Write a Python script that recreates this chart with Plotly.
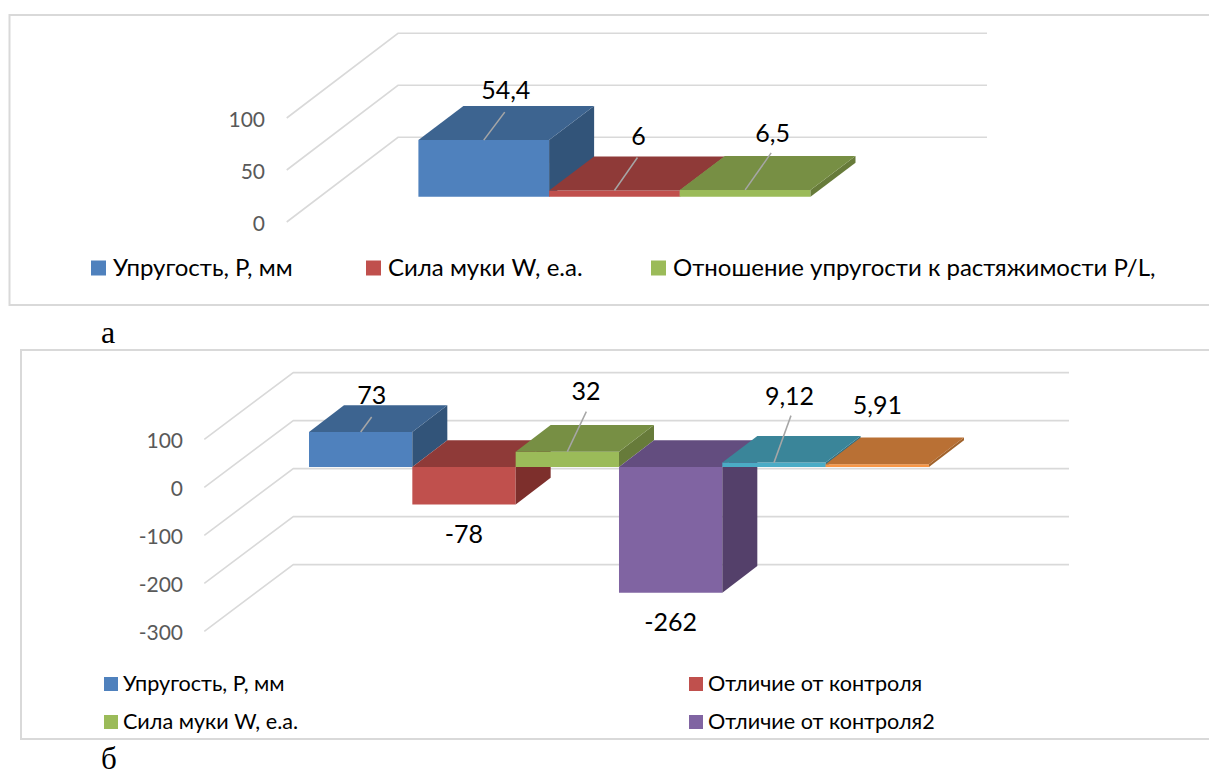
import plotly.graph_objects as go

FONT = "Lato, Carlito, 'Noto Sans', sans-serif"
W, H = 1209, 776

# ---- data ----
a_names = ["Упругость, Р, мм", "Сила муки W, е.а.", "Отношение упругости к растяжимости P/L,"]
a_values = [54.4, 6, 6.5]
a_labels = ["54,4", "6", "6,5"]
a_ticks = [0, 50, 100]

b_names = ["Упругость, Р, мм", "Отличие от контроля", "Сила муки W, е.а.", "Отличие от контроля2"]
b_values = [73, -78, 32, -262, 9.12, 5.91]
b_labels = ["73", "-78", "32", "-262", "9,12", "5,91"]
b_ticks = [100, 0, -100, -200, -300]

# ---- style ----
FRONT = ["#4F81BD", "#C0504D", "#9BBB59", "#8064A2", "#4BACC6", "#F79646"]
TOP = ["#3D6490", "#8F3A38", "#778F44", "#634D7F", "#3A8599", "#B97034"]
SIDE = ["#325479", "#7D2F2C", "#677B3A", "#54406A", "#2F7084", "#A0622B"]
GRID = "#D9D9D9"
LEADER = "#A6A6A6"
TICK = "#595959"

# Layout description of each pseudo-3D panel, in pixels
A = dict(x0=418.4, bw=130.7, y0=196.7, ppu=1.04, ddx=45, ddy=34, axis_x=266, top=0, bottom=340,
         front_x=286.7, back_x=398, right_x=987, front_dy=25.3, back_dy=-59.4, tickshift=2)
B = dict(x0=309, bw=103.33, y0=467, ppu=0.48, ddx=35, ddy=26.7, axis_x=184, top=340, bottom=776,
         front_x=204.3, back_x=293.3, right_x=1069, front_dy=20.3, back_dy=-46.4, tickshift=1)

a_lab_off = [(22, -47.5), (24, -51.5), (27.5, -54.5)]
b_lab_off = [(11, -34.5), (0, 32), (18.6, -58.2), (0, 32), (15.5, -64.1), (0, -56.5)]
a_lead = [(21, -28), (23, -33), (26, -37)]
b_lead = [(11, -15), None, (19, -40), None, (17, -47), None]


def X(p, px):
    return (px - p["x0"]) / p["bw"]


def Y(p, py):
    return (p["y0"] - py) / p["ppu"]


fig = go.Figure()


def poly(axes, xs, ys, color, name, show_hover=True):
    fig.add_trace(go.Scatter(x=xs, y=ys, mode="lines", fill="toself", fillcolor=color,
                             line=dict(width=0, color=color), name=name, showlegend=False,
                             xaxis=axes[0], yaxis=axes[1], hoverinfo="name" if show_hover else "skip"))


def panel(p, axes, values, labels, ticks, lab_off, lead):
    # gridlines: one front-to-back slanted segment and a back-wall segment for each tick
    gx, gy = [], []
    for t in ticks:
        gx += [X(p, p["front_x"]), X(p, p["back_x"]), X(p, p["right_x"]), None]
        gy += [t + Y(p, p["y0"] + p["front_dy"]), t + Y(p, p["y0"] + p["back_dy"]),
               t + Y(p, p["y0"] + p["back_dy"]), None]
    fig.add_trace(go.Scatter(x=gx, y=gy, mode="lines", line=dict(color=GRID, width=1.6),
                             showlegend=False, hoverinfo="skip", xaxis=axes[0], yaxis=axes[1]))
    dx = p["ddx"] / p["bw"]
    dy = p["ddy"] / p["ppu"]
    for i, v in enumerate(values):
        hi, lo = max(v, 0), min(v, 0)
        poly(axes, [i, i + 1, i + 1, i, i], [lo, lo, hi, hi, lo], FRONT[i], labels[i])
        poly(axes, [i + 1, i + 1 + dx, i + 1 + dx, i + 1, i + 1],
             [lo, lo + dy, hi + dy, hi, lo], SIDE[i], labels[i], False)
        poly(axes, [i, i + dx, i + 1 + dx, i + 1, i], [hi, hi + dy, hi + dy, hi, hi], TOP[i], labels[i], False)
    # leader lines
    lx, ly = [], []
    for i, (v, l) in enumerate(zip(values, lead)):
        if l is None:
            continue
        lx += [i + 0.5, i + 0.5 + l[0] / p["bw"], None]
        ly += [v, v - l[1] / p["ppu"], None]
    fig.add_trace(go.Scatter(x=lx, y=ly, mode="lines", line=dict(color=LEADER, width=1.5),
                             showlegend=False, hoverinfo="skip", xaxis=axes[0], yaxis=axes[1]))
    # data labels
    fig.add_trace(go.Scatter(
        x=[i + 0.5 + o[0] / p["bw"] for i, o in enumerate(lab_off)],
        y=[v - o[1] / p["ppu"] for v, o in zip(values, lab_off)],
        text=labels, mode="text", textposition="middle center",
        textfont=dict(family=FONT, size=25, color="black"),
        showlegend=False, hoverinfo="skip", xaxis=axes[0], yaxis=axes[1]))


panel(A, ("x", "y"), a_values, a_labels, a_ticks, a_lab_off, a_lead)
panel(B, ("x2", "y2"), b_values, b_labels, b_ticks, b_lab_off, b_lead)


def xaxis(p):
    return dict(domain=[p["axis_x"] / W, 1], range=[X(p, p["axis_x"]), X(p, W)], visible=False, fixedrange=True)


def yaxis(p, ticks, anchor):
    return dict(domain=[1 - p["bottom"] / H, 1 - p["top"] / H], range=[Y(p, p["bottom"]), Y(p, p["top"])],
                tickvals=[t + Y(p, p["y0"] + p["front_dy"]) for t in ticks], ticktext=[str(t) for t in ticks],
                tickfont=dict(family=FONT, size=21, color=TICK), ticklabelshift=p["tickshift"], showgrid=False,
                zeroline=False, showline=False, ticks="", anchor=anchor, fixedrange=True)


shapes = [
    dict(type="rect", xref="paper", yref="paper", x0=9.5 / W, x1=1.01, y0=1 - 305 / H, y1=1 - 15 / H,
         line=dict(color=GRID, width=2), layer="below"),
    dict(type="rect", xref="paper", yref="paper", x0=21 / W, x1=1.01, y0=1 - 739 / H, y1=1 - 350 / H,
         line=dict(color=GRID, width=2), layer="below"),
]
annotations = []


def legend_entry(name, color, x, y, size, fsize, gap):
    shapes.append(dict(type="rect", xref="paper", yref="paper", x0=x / W, x1=(x + size) / W,
                       y0=1 - (y + size / 2) / H, y1=1 - (y - size / 2) / H,
                       fillcolor=color, line=dict(width=0)))
    annotations.append(dict(text=name, xref="paper", yref="paper", x=(x + size + gap) / W, y=1 - (y - 1.5) / H,
                            xanchor="left", yanchor="middle", showarrow=False,
                            font=dict(family=FONT, size=fsize, color="black")))


for n, c, x in zip(a_names, FRONT[:3], [91, 366, 651]):
    legend_entry(n, c, x, 268, 15, 24, 5)
for n, c, x, y in zip(b_names, FRONT[:4], [104, 689, 104, 689], [684, 684, 722, 722]):
    legend_entry(n, c, x, y, 14, 21.6, 3)

for t, x, y, s in [("а", 108, 332, 32), ("б", 109, 758, 31)]:
    annotations.append(dict(text=t, xref="paper", yref="paper", x=x / W, y=1 - y / H, showarrow=False,
                            xanchor="center", yanchor="middle",
                            font=dict(family="Liberation Serif", size=s, color="black")))

fig.update_layout(
    width=W, height=H, margin=dict(l=0, r=0, t=0, b=0), paper_bgcolor="white", plot_bgcolor="rgba(0,0,0,0)",
    showlegend=False, shapes=shapes, annotations=annotations,
    xaxis=xaxis(A), yaxis=yaxis(A, a_ticks, "x"),
    xaxis2=xaxis(B), yaxis2=yaxis(B, b_ticks, "x2"),
)

fig.write_html("out.html", config={"displayModeBar": False},
               post_script="document.body.style.margin='0';document.body.style.overflow='hidden';")
